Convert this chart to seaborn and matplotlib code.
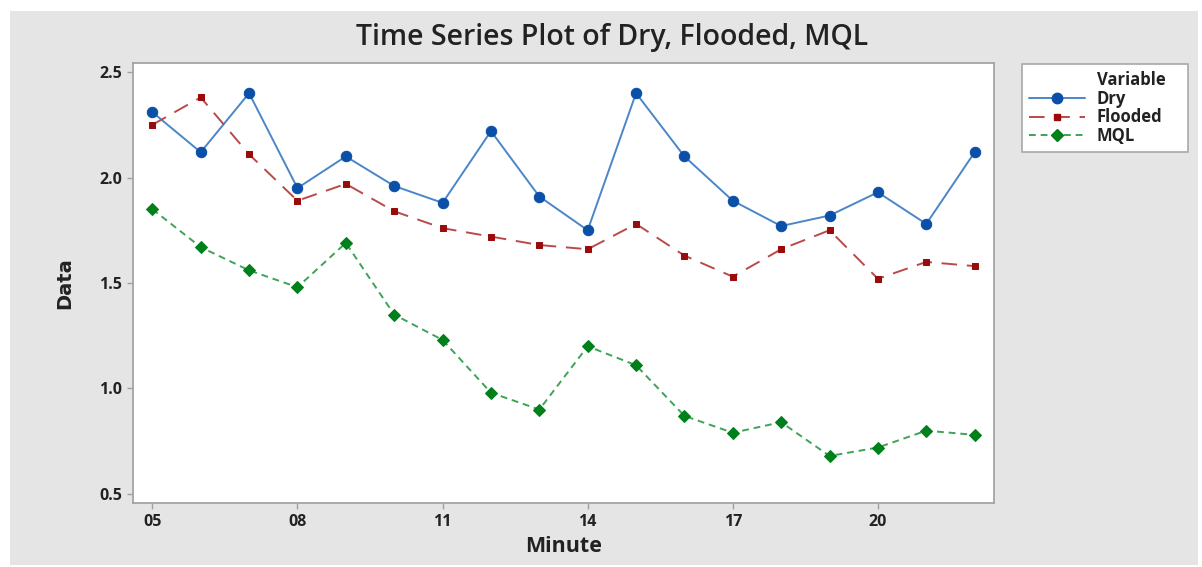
import numpy as np
import pandas as pd
import matplotlib
matplotlib.use("Agg")
import matplotlib.pyplot as plt
import seaborn as sns
from matplotlib.patches import Rectangle
from matplotlib.lines import Line2D

minutes = list(range(5, 23))
dry = [2.31, 2.12, 2.40, 1.95, 2.10, 1.96, 1.88, 2.22, 1.91, 1.75, 2.40, 2.10, 1.89, 1.77, 1.82, 1.93, 1.78, 2.12]
flooded = [2.25, 2.38, 2.11, 1.89, 1.97, 1.84, 1.76, 1.72, 1.68, 1.66, 1.78, 1.63, 1.53, 1.66, 1.75, 1.52, 1.60, 1.58]
mql = [1.85, 1.67, 1.56, 1.48, 1.69, 1.35, 1.23, 0.98, 0.90, 1.20, 1.11, 0.87, 0.79, 0.84, 0.68, 0.72, 0.80, 0.78]
xticks = [5, 8, 11, 14, 17, 20]
xticklabels = ["05", "08", "11", "14", "17", "20"]
yticks = [0.5, 1.0, 1.5, 2.0, 2.5]

sns.set_theme(style="white")
plt.rcParams["font.family"] = ["Open Sans", "DejaVu Sans"]

W, H = 1202, 567
fig = plt.figure(figsize=(W / 100, H / 100), dpi=100, facecolor="white")
fig.patches.append(Rectangle((10 / W, 2 / H), 1 - 14 / W, 1 - 13 / H,
                             transform=fig.transFigure, facecolor="#e5e5e5",
                             edgecolor="none", zorder=-10))
ax = fig.add_axes([133 / W, 1 - 503 / H, (994 - 133) / W, (503 - 63) / H])
ax.set_facecolor("white")

df = pd.DataFrame({"Minute": minutes, "Dry": dry, "Flooded": flooded, "MQL": mql})

sns.lineplot(data=df, x="Minute", y="Dry", ax=ax, color="#4a86c8", lw=1.4,
             marker="o", markersize=7.5, markerfacecolor="#0a4fa8",
             markeredgecolor="#0a4fa8")
sns.lineplot(data=df, x="Minute", y="Flooded", ax=ax, color="#b94a4a", lw=1.4,
             marker="s", markersize=5, markerfacecolor="#9a0c0c",
             markeredgecolor="#9a0c0c")
ax.lines[-1].set_dashes([8, 5])
sns.lineplot(data=df, x="Minute", y="MQL", ax=ax, color="#3ea356", lw=1.4,
             marker="D", markersize=6, markerfacecolor="#00801a",
             markeredgecolor="#00801a")
ax.lines[-1].set_dashes([3.5, 2.5])

ax.set_xlim(4.6, 22.4)
ax.set_ylim(0.457, 2.543)
ax.set_xticks(xticks)
ax.set_xticklabels(xticklabels)
ax.set_yticks(yticks)
ax.set_yticklabels([f"{v:.1f}" for v in yticks])
ax.tick_params(axis="both", which="major", length=4, width=1, color="#a0a0a0",
               labelsize=11.5, labelcolor="#222222", bottom=True, left=True,
               direction="out", pad=4)
for lab in ax.get_xticklabels() + ax.get_yticklabels():
    lab.set_fontweight("bold")
for sp in ax.spines.values():
    sp.set_color("#a4a4a4")
    sp.set_linewidth(1.3)

ax.set_xlabel("Minute", fontsize=15.5, fontweight="bold", color="#222222", va="baseline")
ax.xaxis.set_label_coords(0.5, (503 - 552) / 440)
ax.set_ylabel("Data", fontsize=14, fontweight="semibold", color="#222222", va="center",
              family=["Liberation Sans Narrow", "DejaVu Sans Condensed", "DejaVu Sans"])
ax.yaxis.set_label_coords((65 - 133) / 861, 0.5)
fig.text(612 / W, 1 - 45 / H, "Time Series Plot of Dry, Flooded, MQL",
         ha="center", va="baseline", fontsize=20.5, fontweight="semibold", color="#222222")

handles = [
    Line2D([], [], linestyle="none", marker=None),
    Line2D([], [], color="#4a86c8", lw=1.4, marker="o", markersize=7.5,
           markerfacecolor="#0a4fa8", markeredgecolor="#0a4fa8"),
    Line2D([], [], color="#b94a4a", lw=1.4, marker="s", markersize=5, dashes=[8, 5],
           markerfacecolor="#9a0c0c", markeredgecolor="#9a0c0c"),
    Line2D([], [], color="#3ea356", lw=1.4, marker="D", markersize=6, dashes=[3.5, 2.5],
           markerfacecolor="#00801a", markeredgecolor="#00801a"),
]
labels = ["Variable", "Dry", "Flooded", "MQL"]
leg = fig.legend(handles, labels, loc="upper left",
                 bbox_to_anchor=(1022 / W, 1 - 148 / H, 166 / W, 84 / H), mode="expand",
                 prop={"size": 12, "weight": "bold"},
                 frameon=True, fancybox=False, edgecolor="#a8a8a8", facecolor="white",
                 framealpha=1, handlelength=3.35, handletextpad=0.75, labelspacing=0.05,
                 borderpad=0.4, borderaxespad=0)
leg.get_frame().set_linewidth(1.2)
for t in leg.get_texts():
    t.set_color("#222222")

fig.savefig("out.png", dpi=100, facecolor=fig.get_facecolor())
